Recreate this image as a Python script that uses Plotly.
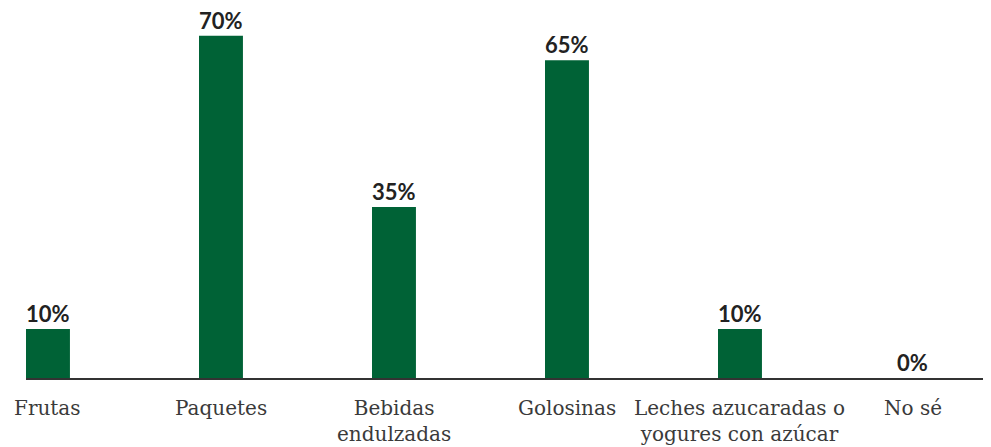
import plotly.graph_objects as go

categories = ["Frutas", "Paquetes", "Bebidas<br>endulzadas", "Golosinas",
              "Leches azucaradas o<br>yogures con azúcar", "No sé"]
values = [10, 70, 35, 65, 10, 0]
labels = [f"{v}%" for v in values]

xs = list(range(len(categories)))
fig = go.Figure(go.Bar(
    x=xs, y=values,
    marker=dict(color="#006236", line=dict(width=0)),
    hoverinfo="skip",
))

annotations = []
for i, (v, lab) in enumerate(zip(values, labels)):
    annotations.append(dict(
        x=i, y=v, xref="x", yref="y", text=lab, showarrow=False,
        yanchor="bottom", yshift=1, borderpad=0,
        font=dict(family="Lato", size=22, color="#222222", weight="bold"),
    ))
for i, cat in enumerate(categories):
    annotations.append(dict(
        x=i, y=0, xref="x", yref="y", text=cat, showarrow=False,
        yanchor="top", yshift=-16,
        font=dict(family="DejaVu Serif", size=20, color="#3a3a3a"),
    ))

# page body has an 8px margin, so the figure is sized/offset to compensate
fig.update_layout(
    width=983, height=439,
    margin=dict(l=18, r=0, t=0, b=69),
    paper_bgcolor="white", plot_bgcolor="white",
    bargap=0.746, showlegend=False,
    annotations=annotations,
    xaxis=dict(range=[-0.127, 5.451], automargin=False,
               showline=True, linecolor="#333333", linewidth=2,
               showgrid=False, zeroline=False, showticklabels=False, ticks=""),
    yaxis=dict(range=[0, 75.7], visible=False, showgrid=False, automargin=False),
)
fig.write_html("out.html")
